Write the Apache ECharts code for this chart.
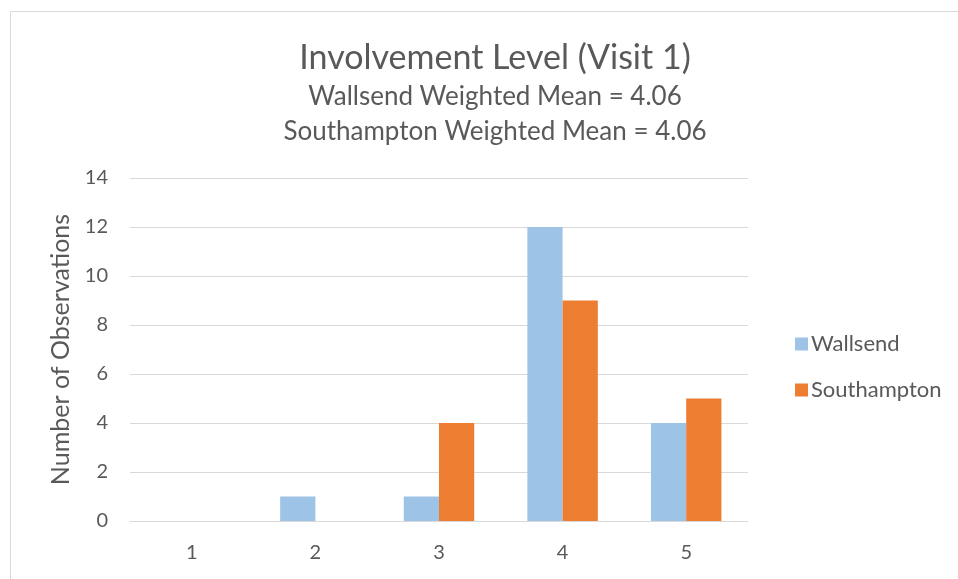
<!DOCTYPE html>
<html><head><meta charset="utf-8">
<script src="https://cdn.jsdelivr.net/npm/echarts@6/dist/echarts.min.js"></script>
<style>html,body{margin:0;padding:0;background:#fff}#c{width:958px;height:579px}</style>
</head><body><div id="c"></div>
<script>
const categories = ['1','2','3','4','5'];
const wallsend = [0,1,1,12,4];
const southampton = [0,0,4,9,5];
const titleText = 'Involvement Level (Visit 1)';
const subtitleLines = ['Wallsend Weighted Mean = 4.06','Southampton Weighted Mean = 4.06'];
const yAxisName = 'Number of Observations';

const FONT = 'Lato';
const GRAY = '#595959';
const chart = echarts.init(document.getElementById('c'));
chart.setOption({
  animation:false,
  textStyle:{fontFamily:FONT},
  graphic:[{type:'rect',shape:{x:10.5,y:11.5,width:980,height:600},style:{fill:null,stroke:'#d9d9d9',lineWidth:1},silent:true}],
  title:[
    {text:titleText,left:490,textAlign:'center',top:36,textStyle:{fontFamily:FONT,fontSize:34,fontWeight:'normal',color:GRAY}},
    {text:subtitleLines[0],left:490,textAlign:'center',top:79,textStyle:{fontFamily:FONT,fontSize:26,fontWeight:'normal',color:GRAY}},
    {text:subtitleLines[1],left:490,textAlign:'center',top:114,textStyle:{fontFamily:FONT,fontSize:26,fontWeight:'normal',color:GRAY}}
  ],
  legend:{orient:'vertical',left:790,top:328,itemWidth:13,itemHeight:13,itemGap:24,icon:'rect',
    textStyle:{fontFamily:FONT,fontSize:22,color:GRAY,padding:[0,0,0,-2]},data:['Wallsend','Southampton']},
  grid:{left:130,right:210,top:178,bottom:58},
  xAxis:{type:'category',data:categories,axisLine:{show:true,lineStyle:{color:'#d9d9d9',width:1}},axisTick:{show:false},
    axisLabel:{fontFamily:FONT,fontSize:20,color:GRAY,margin:22}},
  yAxis:{type:'value',min:0,max:14,interval:2,name:yAxisName,nameLocation:'middle',nameGap:55,
    nameTextStyle:{fontFamily:FONT,fontSize:25,color:GRAY},
    axisLine:{show:false},axisTick:{show:false},
    axisLabel:{fontFamily:FONT,fontSize:20,color:GRAY,margin:22},
    splitLine:{lineStyle:{color:'#d9d9d9',width:1}}},
  series:[
    {name:'Wallsend',type:'bar',data:wallsend,itemStyle:{color:'#9DC3E6'},barGap:'0%',barCategoryGap:'43%'},
    {name:'Southampton',type:'bar',data:southampton,itemStyle:{color:'#ED7D31'},barGap:'0%',barCategoryGap:'43%'}
  ]
});
</script></body></html>
